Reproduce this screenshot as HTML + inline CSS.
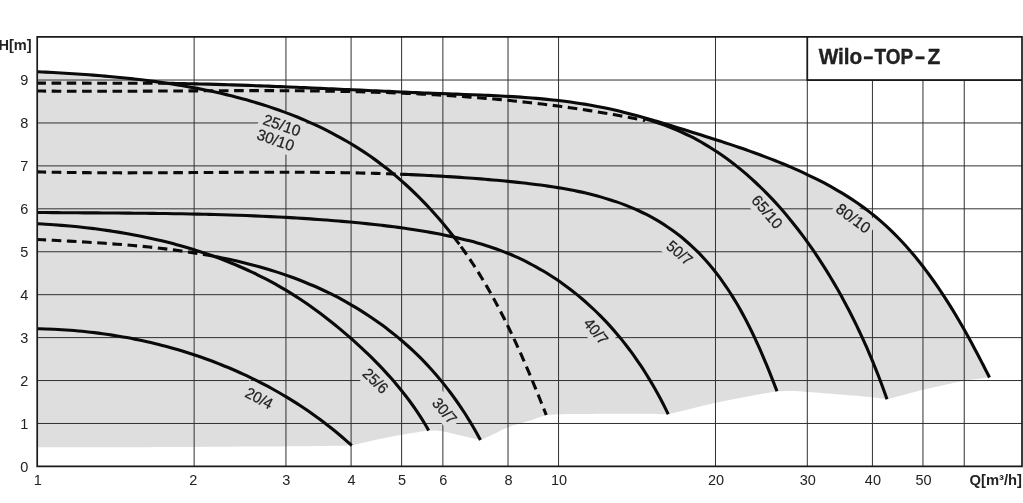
<!DOCTYPE html>
<html><head><meta charset="utf-8"><title>Wilo-TOP-Z</title>
<style>html,body{margin:0;padding:0;background:#fff}svg{display:block}text{font-family:"Liberation Sans",sans-serif;fill:#222}</style></head><body>
<svg width="1023" height="503" viewBox="0 0 1023 503">
<rect width="1023" height="503" fill="#fff"/>
<defs><clipPath id="gc"><path d="M37.52,71.76 C38.82,71.83 42.75,72.02 45.37,72.15 C47.99,72.28 50.62,72.42 53.26,72.56 C55.89,72.70 58.53,72.85 61.17,73.00 C63.81,73.15 66.46,73.31 69.11,73.47 C71.76,73.64 74.42,73.81 77.07,73.99 C79.73,74.16 82.39,74.35 85.05,74.54 C87.72,74.73 90.38,74.93 93.05,75.13 C95.72,75.34 98.39,75.55 101.06,75.77 C103.74,76.00 106.41,76.23 109.09,76.47 C111.76,76.71 114.44,76.95 117.12,77.21 C119.79,77.47 122.47,77.74 125.15,78.01 C127.83,78.29 130.51,78.58 133.19,78.88 C135.87,79.18 138.55,79.49 141.22,79.81 C143.90,80.13 146.58,80.46 149.26,80.80 C151.93,81.15 154.61,81.50 157.28,81.87 C159.96,82.24 163.51,82.77 165.30,83.01 C167.08,83.25 167.55,83.25 168.00,83.30 C169.34,83.34 173.35,83.40 176.03,83.45 C178.71,83.49 181.38,83.54 184.06,83.60 C186.73,83.65 189.41,83.70 192.08,83.76 C194.76,83.82 197.43,83.89 200.11,83.95 C202.78,84.02 205.45,84.09 208.13,84.16 C210.80,84.23 213.47,84.30 216.14,84.38 C218.82,84.46 221.49,84.54 224.16,84.62 C226.83,84.70 229.51,84.79 232.18,84.87 C234.85,84.96 237.52,85.05 240.19,85.14 C242.86,85.23 245.53,85.32 248.20,85.42 C250.87,85.51 253.55,85.61 256.22,85.71 C258.89,85.81 261.56,85.91 264.23,86.01 C266.90,86.12 269.57,86.22 272.24,86.33 C274.91,86.43 277.57,86.54 280.24,86.65 C282.91,86.76 285.58,86.87 288.25,86.98 C290.92,87.09 293.59,87.20 296.26,87.32 C298.93,87.43 301.60,87.55 304.27,87.66 C306.94,87.78 309.61,87.89 312.28,88.01 C314.94,88.13 317.61,88.25 320.28,88.36 C322.95,88.48 325.62,88.60 328.29,88.72 C330.96,88.84 333.63,88.96 336.30,89.08 C338.97,89.20 341.64,89.32 344.31,89.44 C346.98,89.56 349.65,89.68 352.32,89.80 C354.99,89.92 357.66,90.04 360.33,90.17 C363.00,90.29 365.67,90.41 368.34,90.53 C371.01,90.65 373.68,90.76 376.35,90.88 C379.02,91.00 381.70,91.12 384.37,91.24 C387.04,91.36 389.71,91.47 392.38,91.59 C395.05,91.71 397.73,91.82 400.40,91.94 C403.07,92.05 405.75,92.16 408.42,92.27 C411.09,92.39 413.77,92.50 416.44,92.61 C419.11,92.72 421.79,92.83 424.46,92.93 C427.14,93.04 429.81,93.14 432.49,93.25 C435.16,93.35 437.84,93.45 440.52,93.55 C443.19,93.66 445.87,93.75 448.55,93.85 C451.23,93.95 453.90,94.04 456.58,94.14 C459.26,94.24 461.94,94.34 464.61,94.43 C467.29,94.53 469.97,94.63 472.65,94.74 C475.32,94.84 478.00,94.95 480.68,95.06 C483.35,95.17 486.03,95.28 488.70,95.40 C491.38,95.52 494.05,95.64 496.73,95.78 C499.40,95.91 502.07,96.04 504.74,96.19 C507.42,96.34 510.09,96.49 512.76,96.65 C515.42,96.81 518.09,96.98 520.76,97.17 C523.42,97.35 526.09,97.54 528.75,97.74 C531.41,97.95 534.08,98.16 536.73,98.39 C539.39,98.62 542.05,98.86 544.71,99.11 C547.36,99.37 550.01,99.63 552.67,99.92 C555.32,100.20 557.96,100.50 560.61,100.81 C563.26,101.13 565.90,101.46 568.54,101.81 C571.18,102.16 573.82,102.53 576.45,102.91 C579.09,103.30 581.72,103.70 584.35,104.13 C586.98,104.55 589.60,105.00 592.22,105.47 C594.85,105.93 597.46,106.42 600.08,106.93 C602.70,107.44 605.31,107.97 607.91,108.53 C610.52,109.09 613.13,109.67 615.73,110.27 C618.33,110.88 620.92,111.51 623.52,112.15 C626.11,112.80 628.70,113.46 631.29,114.14 C633.87,114.82 636.46,115.53 639.04,116.24 C641.62,116.95 644.20,117.68 646.77,118.42 C649.35,119.16 651.92,119.91 654.49,120.67 C657.06,121.43 659.63,122.20 662.19,122.98 C664.75,123.75 667.32,124.54 669.88,125.32 C672.44,126.11 675.00,126.90 677.55,127.69 C680.11,128.49 682.66,129.28 685.22,130.07 C687.77,130.87 690.32,131.66 692.87,132.45 C695.42,133.25 697.97,134.04 700.51,134.84 C703.06,135.64 705.60,136.44 708.14,137.25 C710.68,138.05 713.22,138.86 715.76,139.68 C718.29,140.49 720.83,141.31 723.36,142.14 C725.89,142.97 728.42,143.80 730.95,144.65 C733.47,145.49 736.00,146.34 738.52,147.20 C741.04,148.06 743.56,148.93 746.07,149.82 C748.59,150.70 751.10,151.59 753.61,152.50 C756.11,153.40 758.62,154.32 761.12,155.25 C763.63,156.18 766.13,157.13 768.62,158.09 C771.12,159.05 773.61,160.03 776.10,161.02 C778.59,162.01 781.07,163.02 783.55,164.05 C786.03,165.08 788.51,166.12 790.98,167.19 C793.45,168.25 795.91,169.33 798.37,170.44 C800.82,171.54 803.27,172.66 805.71,173.81 C808.15,174.95 810.57,176.12 812.99,177.31 C815.40,178.49 817.81,179.70 820.20,180.94 C822.59,182.17 824.97,183.43 827.33,184.71 C829.69,185.99 832.04,187.29 834.36,188.62 C836.69,189.95 839.00,191.31 841.30,192.69 C843.59,194.07 845.86,195.48 848.12,196.92 C850.37,198.35 852.60,199.82 854.81,201.31 C857.02,202.80 859.21,204.32 861.37,205.88 C863.53,207.43 865.67,209.01 867.79,210.62 C869.90,212.23 871.98,213.87 874.04,215.55 C876.10,217.22 878.13,218.93 880.14,220.66 C882.14,222.40 884.12,224.16 886.07,225.95 C888.03,227.75 889.95,229.57 891.86,231.42 C893.76,233.26 895.64,235.14 897.49,237.04 C899.34,238.94 901.17,240.87 902.98,242.82 C904.79,244.77 906.57,246.75 908.33,248.74 C910.09,250.74 911.83,252.76 913.54,254.80 C915.26,256.84 916.95,258.91 918.62,260.99 C920.30,263.07 921.95,265.17 923.58,267.29 C925.21,269.42 926.82,271.56 928.42,273.71 C930.01,275.87 931.58,278.04 933.13,280.23 C934.69,282.42 936.22,284.63 937.74,286.84 C939.26,289.06 940.76,291.30 942.24,293.54 C943.72,295.79 945.18,298.05 946.63,300.32 C948.08,302.59 949.51,304.87 950.93,307.16 C952.35,309.45 953.75,311.76 955.13,314.07 C956.52,316.38 957.89,318.69 959.25,321.02 C960.60,323.35 961.95,325.68 963.28,328.02 C964.60,330.36 965.92,332.70 967.22,335.05 C968.53,337.40 969.82,339.75 971.10,342.11 C972.38,344.46 973.64,346.82 974.90,349.18 C976.16,351.54 977.40,353.91 978.64,356.27 C979.87,358.63 981.10,360.99 982.31,363.35 C983.53,365.71 984.74,368.08 985.93,370.43 C987.13,372.79 988.91,376.32 989.50,377.49 L964.6,380.4 L922.9,389.8 L887,399.25 C884.17,398.88 877.83,397.79 870.00,397.00 C862.17,396.21 850.42,395.33 840.00,394.50 C829.58,393.67 815.83,392.58 807.50,392.00 C799.17,391.42 795.08,391.12 790.00,391.00 C784.92,390.88 779.17,391.21 777.00,391.25 C771.67,392.21 755.33,395.04 745.00,397.00 C734.67,398.96 724.17,401.00 715.00,403.00 C705.83,405.00 697.79,407.12 690.00,409.00 C682.21,410.88 671.88,413.38 668.25,414.25 C660.21,414.17 634.71,413.79 620.00,413.75 C605.29,413.71 590.21,413.92 580.00,414.00 C569.79,414.08 564.38,414.08 558.75,414.25 C553.12,414.42 548.33,414.88 546.25,415.00 C543.54,415.92 536.46,418.42 530.00,420.50 C523.54,422.58 513.50,425.25 507.50,427.50 C501.50,429.75 498.50,431.92 494.00,434.00 C489.50,436.08 482.75,439.00 480.50,440.00 C477.92,439.42 470.08,437.67 465.00,436.50 C459.92,435.33 454.17,433.92 450.00,433.00 C445.83,432.08 443.54,431.42 440.00,431.00 C436.46,430.58 430.62,430.58 428.75,430.50 C423.96,431.25 408.96,433.42 400.00,435.00 C391.04,436.58 383.04,438.25 375.00,440.00 C366.96,441.75 355.62,444.58 351.75,445.50 C343.12,445.63 326.46,446.07 300.00,446.30 C273.54,446.53 236.80,446.73 193.00,446.90 C149.20,447.07 63.17,447.23 37.20,447.30 Z"/></clipPath></defs>
<path d="M37.52,71.76 C38.82,71.83 42.75,72.02 45.37,72.15 C47.99,72.28 50.62,72.42 53.26,72.56 C55.89,72.70 58.53,72.85 61.17,73.00 C63.81,73.15 66.46,73.31 69.11,73.47 C71.76,73.64 74.42,73.81 77.07,73.99 C79.73,74.16 82.39,74.35 85.05,74.54 C87.72,74.73 90.38,74.93 93.05,75.13 C95.72,75.34 98.39,75.55 101.06,75.77 C103.74,76.00 106.41,76.23 109.09,76.47 C111.76,76.71 114.44,76.95 117.12,77.21 C119.79,77.47 122.47,77.74 125.15,78.01 C127.83,78.29 130.51,78.58 133.19,78.88 C135.87,79.18 138.55,79.49 141.22,79.81 C143.90,80.13 146.58,80.46 149.26,80.80 C151.93,81.15 154.61,81.50 157.28,81.87 C159.96,82.24 163.51,82.77 165.30,83.01 C167.08,83.25 167.55,83.25 168.00,83.30 C169.34,83.34 173.35,83.40 176.03,83.45 C178.71,83.49 181.38,83.54 184.06,83.60 C186.73,83.65 189.41,83.70 192.08,83.76 C194.76,83.82 197.43,83.89 200.11,83.95 C202.78,84.02 205.45,84.09 208.13,84.16 C210.80,84.23 213.47,84.30 216.14,84.38 C218.82,84.46 221.49,84.54 224.16,84.62 C226.83,84.70 229.51,84.79 232.18,84.87 C234.85,84.96 237.52,85.05 240.19,85.14 C242.86,85.23 245.53,85.32 248.20,85.42 C250.87,85.51 253.55,85.61 256.22,85.71 C258.89,85.81 261.56,85.91 264.23,86.01 C266.90,86.12 269.57,86.22 272.24,86.33 C274.91,86.43 277.57,86.54 280.24,86.65 C282.91,86.76 285.58,86.87 288.25,86.98 C290.92,87.09 293.59,87.20 296.26,87.32 C298.93,87.43 301.60,87.55 304.27,87.66 C306.94,87.78 309.61,87.89 312.28,88.01 C314.94,88.13 317.61,88.25 320.28,88.36 C322.95,88.48 325.62,88.60 328.29,88.72 C330.96,88.84 333.63,88.96 336.30,89.08 C338.97,89.20 341.64,89.32 344.31,89.44 C346.98,89.56 349.65,89.68 352.32,89.80 C354.99,89.92 357.66,90.04 360.33,90.17 C363.00,90.29 365.67,90.41 368.34,90.53 C371.01,90.65 373.68,90.76 376.35,90.88 C379.02,91.00 381.70,91.12 384.37,91.24 C387.04,91.36 389.71,91.47 392.38,91.59 C395.05,91.71 397.73,91.82 400.40,91.94 C403.07,92.05 405.75,92.16 408.42,92.27 C411.09,92.39 413.77,92.50 416.44,92.61 C419.11,92.72 421.79,92.83 424.46,92.93 C427.14,93.04 429.81,93.14 432.49,93.25 C435.16,93.35 437.84,93.45 440.52,93.55 C443.19,93.66 445.87,93.75 448.55,93.85 C451.23,93.95 453.90,94.04 456.58,94.14 C459.26,94.24 461.94,94.34 464.61,94.43 C467.29,94.53 469.97,94.63 472.65,94.74 C475.32,94.84 478.00,94.95 480.68,95.06 C483.35,95.17 486.03,95.28 488.70,95.40 C491.38,95.52 494.05,95.64 496.73,95.78 C499.40,95.91 502.07,96.04 504.74,96.19 C507.42,96.34 510.09,96.49 512.76,96.65 C515.42,96.81 518.09,96.98 520.76,97.17 C523.42,97.35 526.09,97.54 528.75,97.74 C531.41,97.95 534.08,98.16 536.73,98.39 C539.39,98.62 542.05,98.86 544.71,99.11 C547.36,99.37 550.01,99.63 552.67,99.92 C555.32,100.20 557.96,100.50 560.61,100.81 C563.26,101.13 565.90,101.46 568.54,101.81 C571.18,102.16 573.82,102.53 576.45,102.91 C579.09,103.30 581.72,103.70 584.35,104.13 C586.98,104.55 589.60,105.00 592.22,105.47 C594.85,105.93 597.46,106.42 600.08,106.93 C602.70,107.44 605.31,107.97 607.91,108.53 C610.52,109.09 613.13,109.67 615.73,110.27 C618.33,110.88 620.92,111.51 623.52,112.15 C626.11,112.80 628.70,113.46 631.29,114.14 C633.87,114.82 636.46,115.53 639.04,116.24 C641.62,116.95 644.20,117.68 646.77,118.42 C649.35,119.16 651.92,119.91 654.49,120.67 C657.06,121.43 659.63,122.20 662.19,122.98 C664.75,123.75 667.32,124.54 669.88,125.32 C672.44,126.11 675.00,126.90 677.55,127.69 C680.11,128.49 682.66,129.28 685.22,130.07 C687.77,130.87 690.32,131.66 692.87,132.45 C695.42,133.25 697.97,134.04 700.51,134.84 C703.06,135.64 705.60,136.44 708.14,137.25 C710.68,138.05 713.22,138.86 715.76,139.68 C718.29,140.49 720.83,141.31 723.36,142.14 C725.89,142.97 728.42,143.80 730.95,144.65 C733.47,145.49 736.00,146.34 738.52,147.20 C741.04,148.06 743.56,148.93 746.07,149.82 C748.59,150.70 751.10,151.59 753.61,152.50 C756.11,153.40 758.62,154.32 761.12,155.25 C763.63,156.18 766.13,157.13 768.62,158.09 C771.12,159.05 773.61,160.03 776.10,161.02 C778.59,162.01 781.07,163.02 783.55,164.05 C786.03,165.08 788.51,166.12 790.98,167.19 C793.45,168.25 795.91,169.33 798.37,170.44 C800.82,171.54 803.27,172.66 805.71,173.81 C808.15,174.95 810.57,176.12 812.99,177.31 C815.40,178.49 817.81,179.70 820.20,180.94 C822.59,182.17 824.97,183.43 827.33,184.71 C829.69,185.99 832.04,187.29 834.36,188.62 C836.69,189.95 839.00,191.31 841.30,192.69 C843.59,194.07 845.86,195.48 848.12,196.92 C850.37,198.35 852.60,199.82 854.81,201.31 C857.02,202.80 859.21,204.32 861.37,205.88 C863.53,207.43 865.67,209.01 867.79,210.62 C869.90,212.23 871.98,213.87 874.04,215.55 C876.10,217.22 878.13,218.93 880.14,220.66 C882.14,222.40 884.12,224.16 886.07,225.95 C888.03,227.75 889.95,229.57 891.86,231.42 C893.76,233.26 895.64,235.14 897.49,237.04 C899.34,238.94 901.17,240.87 902.98,242.82 C904.79,244.77 906.57,246.75 908.33,248.74 C910.09,250.74 911.83,252.76 913.54,254.80 C915.26,256.84 916.95,258.91 918.62,260.99 C920.30,263.07 921.95,265.17 923.58,267.29 C925.21,269.42 926.82,271.56 928.42,273.71 C930.01,275.87 931.58,278.04 933.13,280.23 C934.69,282.42 936.22,284.63 937.74,286.84 C939.26,289.06 940.76,291.30 942.24,293.54 C943.72,295.79 945.18,298.05 946.63,300.32 C948.08,302.59 949.51,304.87 950.93,307.16 C952.35,309.45 953.75,311.76 955.13,314.07 C956.52,316.38 957.89,318.69 959.25,321.02 C960.60,323.35 961.95,325.68 963.28,328.02 C964.60,330.36 965.92,332.70 967.22,335.05 C968.53,337.40 969.82,339.75 971.10,342.11 C972.38,344.46 973.64,346.82 974.90,349.18 C976.16,351.54 977.40,353.91 978.64,356.27 C979.87,358.63 981.10,360.99 982.31,363.35 C983.53,365.71 984.74,368.08 985.93,370.43 C987.13,372.79 988.91,376.32 989.50,377.49 L964.6,380.4 L922.9,389.8 L887,399.25 C884.17,398.88 877.83,397.79 870.00,397.00 C862.17,396.21 850.42,395.33 840.00,394.50 C829.58,393.67 815.83,392.58 807.50,392.00 C799.17,391.42 795.08,391.12 790.00,391.00 C784.92,390.88 779.17,391.21 777.00,391.25 C771.67,392.21 755.33,395.04 745.00,397.00 C734.67,398.96 724.17,401.00 715.00,403.00 C705.83,405.00 697.79,407.12 690.00,409.00 C682.21,410.88 671.88,413.38 668.25,414.25 C660.21,414.17 634.71,413.79 620.00,413.75 C605.29,413.71 590.21,413.92 580.00,414.00 C569.79,414.08 564.38,414.08 558.75,414.25 C553.12,414.42 548.33,414.88 546.25,415.00 C543.54,415.92 536.46,418.42 530.00,420.50 C523.54,422.58 513.50,425.25 507.50,427.50 C501.50,429.75 498.50,431.92 494.00,434.00 C489.50,436.08 482.75,439.00 480.50,440.00 C477.92,439.42 470.08,437.67 465.00,436.50 C459.92,435.33 454.17,433.92 450.00,433.00 C445.83,432.08 443.54,431.42 440.00,431.00 C436.46,430.58 430.62,430.58 428.75,430.50 C423.96,431.25 408.96,433.42 400.00,435.00 C391.04,436.58 383.04,438.25 375.00,440.00 C366.96,441.75 355.62,444.58 351.75,445.50 C343.12,445.63 326.46,446.07 300.00,446.30 C273.54,446.53 236.80,446.73 193.00,446.90 C149.20,447.07 63.17,447.23 37.20,447.30 Z" fill="#dedede"/>
<path d="M194.14,36.90 V466.40 M285.95,36.90 V466.40 M351.08,36.90 V466.40 M401.61,36.90 V466.40 M442.89,36.90 V466.40 M508.03,36.90 V466.40 M558.55,36.90 V466.40 M715.49,36.90 V466.40 M807.30,36.90 V466.40 M872.43,80.03 V466.40 M922.96,80.03 V466.40 M964.24,80.03 V466.40 M37.20,423.47 H1022.00 M37.20,380.54 H1022.00 M37.20,337.61 H1022.00 M37.20,294.68 H1022.00 M37.20,251.75 H1022.00 M37.20,208.82 H1022.00 M37.20,165.89 H1022.00 M37.20,122.96 H1022.00 M37.20,80.03 H1022.00" stroke="#303030" stroke-width="1.0" fill="none"/>
<g fill="#dedede" clip-path="url(#gc)"><rect x="-22.2" y="-11.5" width="44.5" height="22" transform="translate(282.0,125.2) rotate(19.4)"/><rect x="-22.2" y="-11.5" width="44.5" height="22" transform="translate(275.6,140.0) rotate(19.2)"/><rect x="-17.3" y="-11.5" width="34.6" height="22" transform="translate(259.2,398.2) rotate(28.0)"/><rect x="-17.3" y="-11.5" width="34.6" height="22" transform="translate(375.6,380.8) rotate(44.0)"/><rect x="-17.3" y="-11.5" width="34.6" height="22" transform="translate(444.6,410.8) rotate(49.0)"/><rect x="-17.3" y="-11.5" width="34.6" height="22" transform="translate(596.0,331.3) rotate(50.0)"/><rect x="-17.3" y="-11.5" width="34.6" height="22" transform="translate(679.6,252.8) rotate(40.0)"/><rect x="-22.2" y="-11.5" width="44.5" height="22" transform="translate(767.2,211.8) rotate(49.3)"/><rect x="-22.2" y="-11.5" width="44.5" height="22" transform="translate(853.4,218.2) rotate(36.5)"/></g>
<path d="M37.50,328.77 C38.86,328.80 42.93,328.87 45.65,328.96 C48.37,329.04 51.09,329.15 53.81,329.27 C56.52,329.39 59.24,329.54 61.96,329.70 C64.67,329.87 67.39,330.05 70.11,330.26 C72.82,330.46 75.53,330.69 78.25,330.94 C80.96,331.18 83.67,331.45 86.38,331.74 C89.08,332.02 91.79,332.33 94.49,332.66 C97.20,332.99 99.90,333.33 102.60,333.70 C105.30,334.07 107.99,334.46 110.68,334.87 C113.38,335.28 116.07,335.72 118.75,336.17 C121.44,336.62 124.12,337.09 126.80,337.59 C129.47,338.08 132.15,338.59 134.82,339.13 C137.49,339.67 140.15,340.22 142.81,340.80 C145.47,341.38 148.12,341.97 150.77,342.59 C153.42,343.21 156.07,343.85 158.71,344.51 C161.34,345.18 163.98,345.86 166.60,346.56 C169.23,347.27 171.85,347.99 174.46,348.74 C177.08,349.48 179.68,350.25 182.28,351.04 C184.88,351.83 187.48,352.64 190.06,353.47 C192.65,354.30 195.23,355.15 197.80,356.02 C200.37,356.90 202.93,357.79 205.49,358.71 C208.04,359.63 210.59,360.57 213.13,361.53 C215.66,362.49 218.19,363.47 220.71,364.47 C223.23,365.47 225.74,366.50 228.25,367.54 C230.75,368.59 233.24,369.66 235.72,370.75 C238.20,371.84 240.68,372.95 243.14,374.08 C245.60,375.22 248.05,376.37 250.49,377.55 C252.93,378.73 255.37,379.93 257.78,381.15 C260.20,382.37 262.61,383.61 265.01,384.88 C267.41,386.14 269.79,387.43 272.16,388.74 C274.54,390.05 276.90,391.38 279.25,392.73 C281.60,394.08 283.93,395.46 286.26,396.86 C288.58,398.26 290.89,399.68 293.19,401.12 C295.49,402.56 297.77,404.02 300.05,405.51 C302.32,407.00 304.58,408.51 306.82,410.04 C309.06,411.57 311.29,413.13 313.51,414.70 C315.72,416.28 317.92,417.88 320.11,419.50 C322.30,421.12 324.47,422.77 326.62,424.43 C328.78,426.10 330.92,427.79 333.05,429.50 C335.17,431.21 337.28,432.95 339.38,434.71 C341.47,436.46 343.55,438.24 345.61,440.05 C347.67,441.85 350.72,444.61 351.74,445.52" fill="none" stroke="#0a0a0a" stroke-width="3.1"/>
<path d="M37.50,223.77 C38.84,223.84 42.87,224.05 45.56,224.21 C48.25,224.37 50.95,224.55 53.64,224.74 C56.33,224.92 59.02,225.13 61.72,225.34 C64.41,225.56 67.10,225.79 69.80,226.03 C72.49,226.28 75.18,226.54 77.88,226.81 C80.57,227.09 83.26,227.38 85.95,227.68 C88.64,227.99 91.33,228.31 94.02,228.64 C96.71,228.98 99.40,229.33 102.08,229.70 C104.77,230.06 107.45,230.45 110.13,230.85 C112.81,231.25 115.49,231.67 118.16,232.10 C120.84,232.53 123.51,232.99 126.18,233.45 C128.85,233.92 131.51,234.41 134.18,234.91 C136.84,235.42 139.49,235.94 142.15,236.48 C144.80,237.02 147.45,237.58 150.09,238.16 C152.74,238.73 155.38,239.33 158.01,239.94 C160.64,240.56 163.27,241.19 165.89,241.85 C168.52,242.50 171.13,243.17 173.74,243.87 C176.35,244.56 178.96,245.27 181.55,246.00 C184.15,246.74 186.74,247.49 189.33,248.27 C191.91,249.04 194.49,249.83 197.05,250.65 C199.62,251.47 202.18,252.31 204.74,253.16 C207.29,254.02 209.83,254.90 212.37,255.81 C214.91,256.71 217.43,257.63 219.95,258.58 C222.47,259.53 224.98,260.50 227.48,261.49 C229.98,262.48 232.47,263.50 234.95,264.54 C237.43,265.57 239.90,266.64 242.36,267.72 C244.81,268.81 247.26,269.92 249.70,271.05 C252.14,272.18 254.57,273.34 256.98,274.52 C259.40,275.70 261.80,276.91 264.19,278.14 C266.58,279.37 268.96,280.63 271.33,281.91 C273.70,283.19 276.05,284.50 278.40,285.83 C280.74,287.16 283.07,288.52 285.38,289.90 C287.70,291.29 290.00,292.70 292.29,294.13 C294.58,295.57 296.85,297.03 299.12,298.51 C301.38,300.00 303.63,301.51 305.86,303.04 C308.10,304.57 310.32,306.12 312.52,307.70 C314.73,309.27 316.92,310.87 319.10,312.49 C321.28,314.10 323.45,315.74 325.60,317.40 C327.75,319.06 329.89,320.74 332.01,322.43 C334.13,324.12 336.24,325.84 338.33,327.57 C340.43,329.30 342.51,331.05 344.57,332.81 C346.64,334.57 348.69,336.35 350.72,338.15 C352.76,339.94 354.78,341.75 356.79,343.57 C358.79,345.40 360.78,347.24 362.76,349.09 C364.73,350.94 366.69,352.81 368.63,354.70 C370.57,356.58 372.49,358.48 374.40,360.40 C376.30,362.31 378.19,364.24 380.05,366.19 C381.92,368.14 383.76,370.10 385.59,372.08 C387.41,374.07 389.22,376.07 391.00,378.08 C392.78,380.10 394.54,382.14 396.27,384.19 C398.01,386.25 399.72,388.32 401.41,390.42 C403.09,392.51 404.75,394.63 406.39,396.76 C408.02,398.90 409.63,401.06 411.21,403.23 C412.79,405.41 414.34,407.61 415.87,409.84 C417.39,412.06 418.88,414.31 420.35,416.58 C421.81,418.85 423.24,421.15 424.64,423.47 C426.05,425.78 428.07,429.33 428.75,430.50" fill="none" stroke="#0a0a0a" stroke-width="3.1"/>
<path d="M213.22,256.17 C214.54,256.43 218.50,257.18 221.13,257.71 C223.76,258.23 226.39,258.78 229.01,259.35 C231.63,259.91 234.24,260.49 236.85,261.09 C239.46,261.70 242.07,262.32 244.66,262.96 C247.26,263.60 249.85,264.26 252.44,264.94 C255.02,265.62 257.60,266.31 260.17,267.04 C262.74,267.76 265.30,268.50 267.85,269.26 C270.41,270.03 272.95,270.81 275.49,271.62 C278.03,272.43 280.56,273.26 283.08,274.12 C285.60,274.97 288.11,275.85 290.61,276.75 C293.12,277.65 295.61,278.58 298.09,279.53 C300.58,280.48 303.05,281.45 305.51,282.45 C307.98,283.46 310.43,284.48 312.87,285.54 C315.31,286.59 317.74,287.67 320.16,288.77 C322.58,289.88 324.99,291.01 327.39,292.17 C329.78,293.33 332.17,294.52 334.54,295.74 C336.91,296.95 339.27,298.19 341.61,299.46 C343.96,300.73 346.29,302.02 348.61,303.34 C350.92,304.66 353.22,306.01 355.51,307.38 C357.80,308.75 360.07,310.15 362.32,311.57 C364.58,313.00 366.82,314.45 369.04,315.93 C371.26,317.40 373.47,318.90 375.66,320.43 C377.84,321.96 380.01,323.51 382.17,325.09 C384.32,326.67 386.45,328.28 388.56,329.90 C390.68,331.53 392.77,333.19 394.85,334.87 C396.92,336.55 398.97,338.25 401.01,339.98 C403.04,341.71 405.05,343.47 407.04,345.25 C409.03,347.02 411.00,348.83 412.95,350.66 C414.90,352.49 416.82,354.34 418.72,356.22 C420.62,358.09 422.50,359.99 424.35,361.92 C426.20,363.84 428.03,365.79 429.84,367.77 C431.64,369.74 433.42,371.74 435.18,373.75 C436.93,375.77 438.67,377.81 440.37,379.88 C442.08,381.94 443.76,384.02 445.42,386.12 C447.08,388.23 448.71,390.35 450.32,392.49 C451.93,394.64 453.52,396.80 455.08,398.98 C456.64,401.16 458.17,403.36 459.68,405.58 C461.19,407.80 462.68,410.03 464.14,412.28 C465.60,414.54 467.03,416.80 468.44,419.09 C469.85,421.37 471.24,423.67 472.60,425.98 C473.96,428.30 475.30,430.63 476.61,432.97 C477.92,435.31 479.82,438.86 480.46,440.03" fill="none" stroke="#0a0a0a" stroke-width="3.1"/>
<path d="M37.50,212.50 C38.84,212.51 42.87,212.55 45.56,212.57 C48.24,212.59 50.92,212.61 53.61,212.63 C56.29,212.65 58.98,212.67 61.66,212.68 C64.34,212.70 67.02,212.72 69.70,212.74 C72.39,212.75 75.07,212.77 77.75,212.79 C80.43,212.80 83.11,212.82 85.79,212.84 C88.47,212.85 91.15,212.87 93.83,212.89 C96.51,212.90 99.18,212.92 101.86,212.94 C104.54,212.96 107.22,212.97 109.89,212.99 C112.57,213.01 115.25,213.03 117.92,213.05 C120.60,213.07 123.28,213.09 125.95,213.12 C128.63,213.14 131.30,213.16 133.98,213.19 C136.65,213.21 139.33,213.24 142.00,213.26 C144.67,213.29 147.35,213.32 150.02,213.35 C152.69,213.38 155.37,213.42 158.04,213.45 C160.71,213.48 163.39,213.52 166.06,213.56 C168.73,213.60 171.40,213.64 174.07,213.68 C176.75,213.72 179.42,213.77 182.09,213.82 C184.76,213.87 187.43,213.92 190.10,213.97 C192.77,214.02 195.44,214.08 198.12,214.14 C200.79,214.19 203.46,214.26 206.13,214.32 C208.80,214.39 211.47,214.45 214.14,214.53 C216.81,214.60 219.48,214.67 222.15,214.75 C224.82,214.83 227.49,214.91 230.16,215.00 C232.83,215.08 235.50,215.17 238.17,215.26 C240.83,215.36 243.50,215.45 246.17,215.56 C248.84,215.66 251.51,215.76 254.18,215.87 C256.85,215.98 259.52,216.10 262.19,216.22 C264.86,216.33 267.53,216.46 270.20,216.59 C272.87,216.71 275.54,216.85 278.21,216.99 C280.88,217.12 283.55,217.27 286.22,217.41 C288.89,217.56 291.56,217.72 294.23,217.88 C296.90,218.03 299.56,218.20 302.24,218.37 C304.91,218.54 307.58,218.71 310.25,218.89 C312.92,219.08 315.59,219.26 318.26,219.46 C320.93,219.65 323.60,219.85 326.27,220.05 C328.94,220.26 331.61,220.47 334.28,220.69 C336.95,220.91 339.63,221.13 342.30,221.36 C344.97,221.59 347.64,221.83 350.31,222.07 C352.99,222.32 355.66,222.57 358.33,222.83 C361.00,223.09 363.68,223.35 366.35,223.63 C369.02,223.90 371.69,224.19 374.36,224.48 C377.04,224.78 379.71,225.08 382.38,225.39 C385.05,225.71 387.71,226.03 390.38,226.36 C393.05,226.70 395.71,227.05 398.38,227.41 C401.04,227.77 403.71,228.14 406.37,228.52 C409.03,228.91 411.69,229.31 414.34,229.72 C417.00,230.13 419.65,230.56 422.30,231.00 C424.96,231.44 427.60,231.90 430.25,232.37 C432.90,232.85 435.54,233.34 438.18,233.84 C440.82,234.35 443.46,234.87 446.09,235.42 C448.72,235.96 451.35,236.52 453.97,237.10 C456.59,237.69 459.21,238.29 461.82,238.92 C464.43,239.54 467.04,240.19 469.63,240.87 C472.22,241.55 474.81,242.25 477.38,242.98 C479.96,243.71 482.52,244.47 485.07,245.26 C487.62,246.05 490.16,246.87 492.69,247.73 C495.22,248.58 497.73,249.47 500.23,250.40 C502.72,251.32 505.21,252.28 507.67,253.28 C510.13,254.28 512.58,255.31 515.01,256.39 C517.44,257.46 519.86,258.58 522.25,259.72 C524.65,260.87 527.03,262.06 529.39,263.28 C531.74,264.50 534.09,265.76 536.41,267.05 C538.73,268.34 541.03,269.67 543.32,271.03 C545.60,272.39 547.87,273.78 550.11,275.21 C552.35,276.64 554.58,278.10 556.78,279.59 C558.99,281.08 561.17,282.61 563.33,284.16 C565.50,285.72 567.64,287.31 569.76,288.93 C571.88,290.54 573.98,292.19 576.06,293.87 C578.14,295.55 580.19,297.26 582.23,298.99 C584.26,300.73 586.27,302.50 588.26,304.29 C590.25,306.08 592.21,307.90 594.15,309.75 C596.10,311.60 598.02,313.48 599.91,315.38 C601.80,317.28 603.68,319.21 605.52,321.16 C607.37,323.11 609.19,325.09 610.99,327.09 C612.79,329.09 614.56,331.12 616.31,333.17 C618.05,335.22 619.78,337.29 621.47,339.38 C623.17,341.48 624.84,343.60 626.49,345.73 C628.13,347.87 629.76,350.03 631.35,352.20 C632.95,354.37 634.52,356.57 636.06,358.78 C637.61,360.99 639.13,363.22 640.62,365.46 C642.11,367.70 643.58,369.96 645.03,372.23 C646.47,374.50 647.89,376.79 649.28,379.09 C650.67,381.38 652.04,383.69 653.38,386.01 C654.72,388.33 656.04,390.66 657.33,393.00 C658.62,395.34 659.88,397.69 661.12,400.04 C662.36,402.40 663.58,404.76 664.76,407.13 C665.95,409.50 667.67,413.06 668.25,414.25" fill="none" stroke="#0a0a0a" stroke-width="3.1"/>
<path d="M400.12,174.19 C401.46,174.24 405.48,174.40 408.16,174.51 C410.84,174.63 413.52,174.74 416.20,174.87 C418.89,174.99 421.57,175.12 424.25,175.25 C426.94,175.38 429.62,175.52 432.31,175.67 C435.00,175.81 437.69,175.96 440.37,176.12 C443.06,176.27 445.75,176.44 448.44,176.60 C451.14,176.77 453.83,176.95 456.52,177.13 C459.22,177.31 461.91,177.49 464.61,177.69 C467.30,177.88 470.00,178.08 472.70,178.28 C475.40,178.49 478.10,178.70 480.80,178.92 C483.50,179.14 486.21,179.37 488.91,179.60 C491.62,179.83 494.32,180.07 497.03,180.32 C499.74,180.57 502.45,180.82 505.16,181.08 C507.87,181.35 510.58,181.61 513.30,181.89 C516.01,182.17 518.73,182.46 521.44,182.76 C524.15,183.05 526.87,183.36 529.58,183.69 C532.29,184.01 535.00,184.34 537.71,184.69 C540.41,185.05 543.12,185.41 545.81,185.79 C548.51,186.18 551.21,186.58 553.89,187.00 C556.58,187.42 559.26,187.86 561.94,188.32 C564.61,188.78 567.28,189.26 569.94,189.77 C572.60,190.28 575.25,190.81 577.89,191.37 C580.53,191.92 583.17,192.50 585.79,193.11 C588.41,193.72 591.02,194.36 593.61,195.03 C596.21,195.70 598.79,196.40 601.36,197.13 C603.93,197.86 606.49,198.62 609.03,199.42 C611.58,200.21 614.10,201.04 616.61,201.91 C619.12,202.78 621.62,203.68 624.09,204.62 C626.57,205.57 629.03,206.55 631.47,207.57 C633.91,208.59 636.33,209.65 638.73,210.76 C641.13,211.86 643.51,213.01 645.87,214.20 C648.23,215.39 650.56,216.63 652.88,217.91 C655.19,219.20 657.48,220.53 659.75,221.91 C662.02,223.29 664.26,224.71 666.48,226.19 C668.69,227.66 670.88,229.19 673.04,230.76 C675.21,232.32 677.34,233.94 679.44,235.59 C681.55,237.25 683.62,238.95 685.66,240.70 C687.70,242.44 689.71,244.22 691.69,246.05 C693.66,247.87 695.60,249.74 697.51,251.65 C699.41,253.55 701.28,255.50 703.11,257.47 C704.94,259.45 706.74,261.47 708.50,263.52 C710.26,265.57 711.99,267.65 713.68,269.76 C715.37,271.87 717.03,274.02 718.65,276.19 C720.28,278.35 721.87,280.55 723.43,282.77 C724.99,284.99 726.52,287.24 728.02,289.50 C729.51,291.76 730.98,294.05 732.42,296.36 C733.85,298.66 735.26,300.98 736.64,303.32 C738.02,305.65 739.37,308.01 740.69,310.37 C742.02,312.74 743.31,315.12 744.58,317.51 C745.86,319.91 747.10,322.31 748.33,324.73 C749.55,327.14 750.75,329.57 751.93,332.00 C753.11,334.44 754.27,336.88 755.41,339.33 C756.54,341.78 757.66,344.24 758.76,346.70 C759.86,349.16 760.94,351.63 762.01,354.10 C763.08,356.57 764.13,359.05 765.16,361.53 C766.20,364.00 767.22,366.49 768.23,368.96 C769.24,371.44 770.23,373.92 771.21,376.40 C772.20,378.88 773.17,381.36 774.14,383.83 C775.10,386.30 776.52,390.01 777.00,391.24" fill="none" stroke="#0a0a0a" stroke-width="3.1"/>
<path d="M37.52,71.76 C38.82,71.83 42.75,72.02 45.37,72.15 C47.99,72.28 50.62,72.42 53.26,72.56 C55.89,72.70 58.53,72.85 61.17,73.00 C63.81,73.15 66.46,73.31 69.11,73.47 C71.76,73.64 74.42,73.81 77.07,73.99 C79.73,74.16 82.39,74.35 85.05,74.54 C87.72,74.73 90.38,74.93 93.05,75.13 C95.72,75.34 98.39,75.55 101.06,75.77 C103.74,76.00 106.41,76.23 109.09,76.47 C111.76,76.71 114.44,76.95 117.12,77.21 C119.79,77.47 122.47,77.74 125.15,78.01 C127.83,78.29 130.51,78.58 133.19,78.88 C135.87,79.18 138.55,79.49 141.22,79.81 C143.90,80.13 146.58,80.46 149.26,80.80 C151.93,81.15 154.61,81.50 157.28,81.87 C159.96,82.24 162.63,82.62 165.30,83.01 C167.97,83.40 170.64,83.81 173.30,84.23 C175.97,84.65 178.63,85.08 181.29,85.53 C183.95,85.97 186.61,86.43 189.26,86.91 C191.91,87.39 194.56,87.88 197.21,88.38 C199.85,88.89 202.49,89.41 205.13,89.94 C207.77,90.48 210.40,91.03 213.03,91.60 C215.65,92.17 218.28,92.75 220.89,93.36 C223.51,93.96 226.12,94.58 228.73,95.21 C231.33,95.85 233.93,96.50 236.52,97.17 C239.12,97.85 241.70,98.54 244.28,99.24 C246.86,99.95 249.44,100.68 252.00,101.43 C254.57,102.17 257.12,102.94 259.67,103.72 C262.22,104.51 264.76,105.31 267.30,106.14 C269.83,106.96 272.36,107.81 274.87,108.67 C277.39,109.54 279.90,110.43 282.39,111.34 C284.89,112.24 287.38,113.17 289.86,114.13 C292.34,115.08 294.81,116.05 297.26,117.05 C299.72,118.05 302.17,119.06 304.61,120.11 C307.04,121.15 309.47,122.21 311.89,123.30 C314.30,124.39 316.71,125.51 319.10,126.64 C321.49,127.78 323.87,128.94 326.24,130.13 C328.60,131.31 330.96,132.53 333.30,133.76 C335.65,135.00 337.98,136.26 340.29,137.55 C342.61,138.84 344.91,140.15 347.20,141.49 C349.49,142.83 351.77,144.20 354.03,145.59 C356.29,146.99 358.54,148.41 360.77,149.86 C363.00,151.30 365.22,152.78 367.42,154.29 C369.63,155.79 371.82,157.32 373.99,158.88 C376.16,160.45 378.32,162.03 380.46,163.65 C382.60,165.27 384.72,166.91 386.83,168.58 C388.93,170.24 391.02,171.94 393.10,173.65 C395.17,175.37 397.22,177.12 399.26,178.88 C401.30,180.65 403.32,182.44 405.32,184.25 C407.32,186.06 409.31,187.90 411.27,189.75 C413.23,191.61 415.18,193.48 417.11,195.38 C419.03,197.28 420.94,199.20 422.82,201.13 C424.71,203.07 426.58,205.03 428.42,207.00 C430.27,208.98 432.10,210.97 433.90,212.98 C435.71,214.99 437.49,217.01 439.25,219.06 C441.01,221.10 442.75,223.16 444.47,225.23 C446.19,227.31 447.89,229.39 449.56,231.50 C451.23,233.60 452.89,235.72 454.51,237.85 C456.14,239.98 458.53,243.20 459.33,244.27" fill="none" stroke="#0a0a0a" stroke-width="3.1"/>
<path d="M168.00,83.32 C169.34,83.34 173.35,83.40 176.03,83.45 C178.71,83.49 181.38,83.54 184.06,83.60 C186.73,83.65 189.41,83.70 192.08,83.76 C194.76,83.82 197.43,83.89 200.11,83.95 C202.78,84.02 205.45,84.09 208.13,84.16 C210.80,84.23 213.47,84.30 216.14,84.38 C218.82,84.46 221.49,84.54 224.16,84.62 C226.83,84.70 229.51,84.79 232.18,84.87 C234.85,84.96 237.52,85.05 240.19,85.14 C242.86,85.23 245.53,85.32 248.20,85.42 C250.87,85.51 253.55,85.61 256.22,85.71 C258.89,85.81 261.56,85.91 264.23,86.01 C266.90,86.12 269.57,86.22 272.24,86.33 C274.91,86.43 277.57,86.54 280.24,86.65 C282.91,86.76 285.58,86.87 288.25,86.98 C290.92,87.09 293.59,87.20 296.26,87.32 C298.93,87.43 301.60,87.55 304.27,87.66 C306.94,87.78 309.61,87.89 312.28,88.01 C314.94,88.13 317.61,88.25 320.28,88.36 C322.95,88.48 325.62,88.60 328.29,88.72 C330.96,88.84 333.63,88.96 336.30,89.08 C338.97,89.20 341.64,89.32 344.31,89.44 C346.98,89.56 349.65,89.68 352.32,89.80 C354.99,89.92 357.66,90.04 360.33,90.17 C363.00,90.29 365.67,90.41 368.34,90.53 C371.01,90.65 373.68,90.76 376.35,90.88 C379.02,91.00 381.70,91.12 384.37,91.24 C387.04,91.36 389.71,91.47 392.38,91.59 C395.05,91.71 397.73,91.82 400.40,91.94 C403.07,92.05 405.75,92.16 408.42,92.27 C411.09,92.39 413.77,92.50 416.44,92.61 C419.11,92.72 421.79,92.83 424.46,92.93 C427.14,93.04 429.81,93.14 432.49,93.25 C435.16,93.35 437.84,93.45 440.52,93.55 C443.19,93.66 445.87,93.75 448.55,93.85 C451.23,93.95 453.90,94.04 456.58,94.14 C459.26,94.24 461.94,94.34 464.61,94.43 C467.29,94.53 469.97,94.63 472.65,94.74 C475.32,94.84 478.00,94.95 480.68,95.06 C483.35,95.17 486.03,95.28 488.70,95.40 C491.38,95.52 494.05,95.64 496.73,95.78 C499.40,95.91 502.07,96.04 504.74,96.19 C507.42,96.34 510.09,96.49 512.76,96.65 C515.42,96.81 518.09,96.98 520.76,97.17 C523.42,97.35 526.09,97.54 528.75,97.74 C531.41,97.95 534.08,98.16 536.73,98.39 C539.39,98.62 542.05,98.86 544.71,99.11 C547.36,99.37 550.01,99.63 552.67,99.92 C555.32,100.20 557.96,100.50 560.61,100.81 C563.26,101.13 565.90,101.46 568.54,101.81 C571.18,102.16 573.82,102.53 576.45,102.91 C579.09,103.30 581.72,103.70 584.35,104.13 C586.98,104.55 589.60,105.00 592.22,105.47 C594.85,105.93 597.46,106.42 600.08,106.93 C602.70,107.44 605.31,107.97 607.91,108.53 C610.52,109.09 613.13,109.67 615.73,110.27 C618.33,110.88 620.92,111.51 623.52,112.15 C626.11,112.80 628.70,113.46 631.29,114.14 C633.87,114.82 636.46,115.53 639.04,116.24 C641.62,116.95 644.20,117.68 646.77,118.42 C649.35,119.16 651.92,119.91 654.49,120.67 C657.06,121.43 659.63,122.20 662.19,122.98 C664.75,123.75 667.32,124.54 669.88,125.32 C672.44,126.11 675.00,126.90 677.55,127.69 C680.11,128.49 682.66,129.28 685.22,130.07 C687.77,130.87 690.32,131.66 692.87,132.45 C695.42,133.25 697.97,134.04 700.51,134.84 C703.06,135.64 705.60,136.44 708.14,137.25 C710.68,138.05 713.22,138.86 715.76,139.68 C718.29,140.49 720.83,141.31 723.36,142.14 C725.89,142.97 728.42,143.80 730.95,144.65 C733.47,145.49 736.00,146.34 738.52,147.20 C741.04,148.06 743.56,148.93 746.07,149.82 C748.59,150.70 751.10,151.59 753.61,152.50 C756.11,153.40 758.62,154.32 761.12,155.25 C763.63,156.18 766.13,157.13 768.62,158.09 C771.12,159.05 773.61,160.03 776.10,161.02 C778.59,162.01 781.07,163.02 783.55,164.05 C786.03,165.08 788.51,166.12 790.98,167.19 C793.45,168.25 795.91,169.33 798.37,170.44 C800.82,171.54 803.27,172.66 805.71,173.81 C808.15,174.95 810.57,176.12 812.99,177.31 C815.40,178.49 817.81,179.70 820.20,180.94 C822.59,182.17 824.97,183.43 827.33,184.71 C829.69,185.99 832.04,187.29 834.36,188.62 C836.69,189.95 839.00,191.31 841.30,192.69 C843.59,194.07 845.86,195.48 848.12,196.92 C850.37,198.35 852.60,199.82 854.81,201.31 C857.02,202.80 859.21,204.32 861.37,205.88 C863.53,207.43 865.67,209.01 867.79,210.62 C869.90,212.23 871.98,213.87 874.04,215.55 C876.10,217.22 878.13,218.93 880.14,220.66 C882.14,222.40 884.12,224.16 886.07,225.95 C888.03,227.75 889.95,229.57 891.86,231.42 C893.76,233.26 895.64,235.14 897.49,237.04 C899.34,238.94 901.17,240.87 902.98,242.82 C904.79,244.77 906.57,246.75 908.33,248.74 C910.09,250.74 911.83,252.76 913.54,254.80 C915.26,256.84 916.95,258.91 918.62,260.99 C920.30,263.07 921.95,265.17 923.58,267.29 C925.21,269.42 926.82,271.56 928.42,273.71 C930.01,275.87 931.58,278.04 933.13,280.23 C934.69,282.42 936.22,284.63 937.74,286.84 C939.26,289.06 940.76,291.30 942.24,293.54 C943.72,295.79 945.18,298.05 946.63,300.32 C948.08,302.59 949.51,304.87 950.93,307.16 C952.35,309.45 953.75,311.76 955.13,314.07 C956.52,316.38 957.89,318.69 959.25,321.02 C960.60,323.35 961.95,325.68 963.28,328.02 C964.60,330.36 965.92,332.70 967.22,335.05 C968.53,337.40 969.82,339.75 971.10,342.11 C972.38,344.46 973.64,346.82 974.90,349.18 C976.16,351.54 977.40,353.91 978.64,356.27 C979.87,358.63 981.10,360.99 982.31,363.35 C983.53,365.71 984.74,368.08 985.93,370.43 C987.13,372.79 988.91,376.32 989.50,377.49" fill="none" stroke="#0a0a0a" stroke-width="3.1"/>
<path d="M644.99,118.99 C646.30,119.36 650.25,120.43 652.85,121.22 C655.45,122.01 658.03,122.85 660.58,123.72 C663.14,124.60 665.67,125.52 668.18,126.48 C670.69,127.44 673.18,128.44 675.64,129.48 C678.11,130.52 680.55,131.61 682.97,132.73 C685.39,133.85 687.79,135.01 690.17,136.20 C692.55,137.40 694.90,138.63 697.23,139.90 C699.57,141.17 701.88,142.48 704.17,143.82 C706.46,145.16 708.73,146.54 710.97,147.95 C713.22,149.36 715.45,150.80 717.65,152.28 C719.85,153.75 722.04,155.26 724.20,156.79 C726.36,158.33 728.50,159.90 730.62,161.50 C732.74,163.10 734.83,164.72 736.91,166.38 C738.99,168.03 741.04,169.72 743.08,171.43 C745.11,173.14 747.13,174.88 749.12,176.64 C751.11,178.40 753.09,180.19 755.04,182.00 C756.99,183.81 758.92,185.65 760.84,187.51 C762.75,189.37 764.64,191.25 766.51,193.15 C768.38,195.06 770.23,196.98 772.06,198.93 C773.89,200.87 775.70,202.84 777.49,204.82 C779.28,206.81 781.05,208.81 782.80,210.83 C784.55,212.85 786.29,214.89 788.00,216.94 C789.71,219.00 791.40,221.07 793.07,223.16 C794.75,225.25 796.40,227.35 798.04,229.47 C799.67,231.59 801.29,233.73 802.88,235.88 C804.48,238.03 806.06,240.19 807.62,242.37 C809.18,244.55 810.73,246.74 812.25,248.94 C813.78,251.15 815.29,253.36 816.78,255.59 C818.27,257.82 819.74,260.07 821.19,262.32 C822.65,264.57 824.09,266.84 825.51,269.11 C826.93,271.39 828.33,273.67 829.72,275.97 C831.11,278.26 832.48,280.57 833.84,282.88 C835.19,285.20 836.53,287.52 837.85,289.85 C839.18,292.18 840.48,294.52 841.77,296.87 C843.06,299.22 844.34,301.58 845.60,303.94 C846.86,306.30 848.10,308.68 849.33,311.05 C850.56,313.43 851.77,315.82 852.97,318.21 C854.16,320.61 855.34,323.01 856.51,325.41 C857.68,327.82 858.83,330.23 859.96,332.65 C861.10,335.07 862.22,337.50 863.32,339.93 C864.43,342.36 865.52,344.80 866.59,347.24 C867.67,349.69 868.73,352.14 869.77,354.59 C870.82,357.04 871.85,359.50 872.86,361.97 C873.88,364.43 874.88,366.90 875.87,369.37 C876.85,371.85 877.82,374.32 878.78,376.80 C879.74,379.29 880.68,381.77 881.61,384.26 C882.54,386.75 883.45,389.24 884.35,391.74 C885.25,394.23 886.57,397.99 887.01,399.24" fill="none" stroke="#0a0a0a" stroke-width="3.1"/>
<path d="M37.52,239.49 C38.82,239.56 42.73,239.75 45.35,239.89 C47.97,240.02 50.59,240.15 53.22,240.29 C55.85,240.42 58.48,240.56 61.12,240.70 C63.75,240.83 66.40,240.97 69.04,241.12 C71.69,241.26 74.34,241.41 76.99,241.56 C79.65,241.71 82.31,241.86 84.97,242.02 C87.63,242.18 90.29,242.34 92.96,242.51 C95.63,242.68 98.30,242.85 100.97,243.03 C103.64,243.21 106.32,243.40 108.99,243.59 C111.67,243.78 114.35,243.98 117.03,244.19 C119.71,244.39 122.39,244.61 125.07,244.83 C127.75,245.05 130.43,245.28 133.12,245.52 C135.80,245.76 138.48,246.01 141.17,246.27 C143.85,246.53 146.53,246.79 149.21,247.07 C151.90,247.35 154.58,247.64 157.26,247.94 C159.94,248.24 162.62,248.55 165.30,248.88 C167.97,249.20 170.65,249.54 173.32,249.89 C176.00,250.23 178.67,250.60 181.34,250.97 C184.01,251.35 186.68,251.73 189.34,252.14 C192.00,252.54 194.66,252.96 197.32,253.39 C199.98,253.82 202.63,254.27 205.28,254.73 C207.93,255.20 211.90,255.93 213.22,256.17" fill="none" stroke="#0a0a0a" stroke-width="3.1" stroke-dasharray="9.6 5.6" stroke-dashoffset="1"/>
<path d="M37.50,171.90 C38.87,171.93 42.97,172.02 45.70,172.08 C48.43,172.14 51.16,172.19 53.89,172.24 C56.62,172.29 59.34,172.33 62.07,172.38 C64.79,172.42 67.51,172.46 70.24,172.49 C72.96,172.53 75.67,172.56 78.39,172.59 C81.11,172.62 83.82,172.64 86.54,172.67 C89.25,172.69 91.96,172.71 94.67,172.73 C97.38,172.74 100.09,172.76 102.80,172.77 C105.50,172.79 108.21,172.80 110.91,172.80 C113.62,172.81 116.32,172.82 119.02,172.82 C121.72,172.83 124.42,172.83 127.12,172.83 C129.82,172.83 132.52,172.82 135.21,172.82 C137.91,172.82 140.60,172.81 143.29,172.81 C145.99,172.80 148.68,172.79 151.37,172.78 C154.06,172.77 156.75,172.76 159.44,172.75 C162.13,172.74 164.81,172.73 167.50,172.71 C170.19,172.70 172.87,172.69 175.55,172.67 C178.24,172.66 180.92,172.64 183.60,172.62 C186.29,172.61 188.97,172.59 191.65,172.57 C194.33,172.56 197.01,172.54 199.69,172.52 C202.37,172.51 205.04,172.49 207.72,172.47 C210.40,172.45 213.07,172.44 215.75,172.42 C218.43,172.40 221.10,172.39 223.78,172.37 C226.45,172.36 229.13,172.34 231.80,172.33 C234.47,172.31 237.15,172.30 239.82,172.29 C242.49,172.27 245.16,172.26 247.83,172.25 C250.51,172.24 253.18,172.23 255.85,172.22 C258.52,172.21 261.19,172.21 263.86,172.20 C266.53,172.19 269.20,172.19 271.87,172.19 C274.54,172.19 277.21,172.19 279.88,172.19 C282.55,172.19 285.22,172.19 287.89,172.20 C290.56,172.20 293.22,172.21 295.89,172.22 C298.56,172.23 301.23,172.24 303.90,172.25 C306.57,172.27 309.24,172.29 311.91,172.31 C314.58,172.33 317.25,172.35 319.92,172.37 C322.59,172.40 325.26,172.43 327.93,172.46 C330.60,172.49 333.27,172.52 335.94,172.56 C338.61,172.60 341.28,172.64 343.95,172.68 C346.62,172.73 349.29,172.77 351.96,172.83 C354.63,172.88 357.31,172.93 359.98,172.99 C362.65,173.05 365.33,173.11 368.00,173.18 C370.67,173.25 373.35,173.32 376.02,173.39 C378.70,173.47 381.37,173.55 384.05,173.63 C386.73,173.72 389.40,173.80 392.08,173.90 C394.76,173.99 398.78,174.14 400.12,174.19" fill="none" stroke="#0a0a0a" stroke-width="3.1" stroke-dasharray="9.6 5.6" stroke-dashoffset="1"/>
<path d="M37.50,83.10 C59.58,83.13 147.92,83.27 170.00,83.30" fill="none" stroke="#0a0a0a" stroke-width="3.1" stroke-dasharray="9.6 5.6" stroke-dashoffset="1"/>
<path d="M37.50,91.00 C38.83,91.02 42.83,91.06 45.49,91.09 C48.15,91.11 50.82,91.13 53.48,91.16 C56.14,91.18 58.81,91.19 61.47,91.21 C64.14,91.23 66.81,91.24 69.47,91.25 C72.14,91.26 74.80,91.27 77.47,91.28 C80.14,91.29 82.81,91.29 85.47,91.29 C88.14,91.30 90.81,91.30 93.48,91.30 C96.15,91.30 98.82,91.30 101.49,91.30 C104.16,91.29 106.83,91.29 109.50,91.28 C112.17,91.28 114.84,91.27 117.51,91.26 C120.18,91.25 122.85,91.24 125.52,91.23 C128.19,91.22 130.86,91.21 133.54,91.20 C136.21,91.19 138.88,91.17 141.55,91.16 C144.23,91.15 146.90,91.13 149.57,91.12 C152.24,91.10 154.92,91.09 157.59,91.07 C160.27,91.06 162.94,91.04 165.61,91.02 C168.29,91.01 170.96,90.99 173.64,90.98 C176.31,90.96 178.99,90.94 181.66,90.93 C184.34,90.91 187.01,90.89 189.69,90.88 C192.36,90.86 195.04,90.85 197.71,90.83 C200.39,90.82 203.06,90.80 205.74,90.79 C208.41,90.77 211.09,90.76 213.77,90.75 C216.44,90.73 219.12,90.72 221.79,90.71 C224.47,90.70 227.15,90.69 229.82,90.68 C232.50,90.67 235.17,90.66 237.85,90.66 C240.53,90.65 243.20,90.64 245.88,90.64 C248.56,90.64 251.23,90.63 253.91,90.63 C256.58,90.63 259.26,90.63 261.94,90.63 C264.61,90.64 267.29,90.64 269.97,90.65 C272.64,90.65 275.32,90.66 277.99,90.67 C280.67,90.68 283.35,90.69 286.02,90.70 C288.70,90.72 291.37,90.74 294.05,90.75 C296.73,90.77 299.40,90.79 302.08,90.82 C304.75,90.84 307.43,90.87 310.10,90.89 C312.78,90.92 315.45,90.95 318.13,90.99 C320.80,91.02 323.48,91.06 326.15,91.10 C328.83,91.14 331.50,91.18 334.18,91.23 C336.85,91.28 339.52,91.32 342.20,91.38 C344.87,91.43 347.55,91.49 350.22,91.55 C352.89,91.61 355.57,91.67 358.24,91.73 C360.91,91.80 363.58,91.87 366.26,91.95 C368.93,92.02 371.60,92.10 374.27,92.18 C376.95,92.26 379.62,92.35 382.29,92.44 C384.96,92.53 387.63,92.62 390.30,92.72 C392.97,92.82 395.64,92.92 398.31,93.03 C400.98,93.13 403.65,93.25 406.32,93.36 C408.99,93.48 411.66,93.60 414.33,93.72 C416.99,93.85 419.66,93.98 422.33,94.11 C425.00,94.25 427.66,94.39 430.33,94.53 C433.00,94.68 435.66,94.83 438.33,94.99 C440.99,95.14 443.66,95.30 446.33,95.47 C448.99,95.63 451.65,95.81 454.32,95.98 C456.98,96.16 459.65,96.34 462.31,96.53 C464.97,96.72 467.63,96.91 470.30,97.11 C472.96,97.31 475.62,97.52 478.28,97.73 C480.94,97.94 483.60,98.16 486.26,98.38 C488.92,98.61 491.58,98.84 494.24,99.07 C496.90,99.31 499.55,99.55 502.21,99.80 C504.87,100.05 507.52,100.31 510.18,100.57 C512.84,100.83 515.49,101.10 518.15,101.38 C520.80,101.66 523.46,101.94 526.11,102.23 C528.76,102.52 531.42,102.82 534.07,103.12 C536.72,103.42 539.37,103.74 542.02,104.05 C544.67,104.37 547.32,104.70 549.97,105.03 C552.62,105.37 555.27,105.71 557.92,106.06 C560.57,106.40 563.21,106.76 565.86,107.12 C568.50,107.49 571.15,107.86 573.79,108.24 C576.44,108.62 579.08,109.01 581.73,109.40 C584.37,109.80 587.01,110.20 589.65,110.62 C592.30,111.03 594.94,111.45 597.58,111.88 C600.22,112.31 602.85,112.74 605.49,113.19 C608.13,113.64 610.77,114.09 613.40,114.55 C616.04,115.02 618.68,115.49 621.31,115.97 C623.95,116.45 626.58,116.94 629.21,117.44 C631.84,117.94 634.48,118.45 637.11,118.96 C639.74,119.48 643.68,120.28 645.00,120.54" fill="none" stroke="#0a0a0a" stroke-width="3.1" stroke-dasharray="9.6 5.6" stroke-dashoffset="1"/>
<path d="M459.33,244.27 C460.11,245.36 462.47,248.59 464.01,250.77 C465.55,252.95 467.07,255.14 468.56,257.34 C470.06,259.55 471.53,261.76 472.99,263.99 C474.45,266.21 475.88,268.45 477.30,270.69 C478.72,272.94 480.11,275.20 481.49,277.47 C482.87,279.73 484.23,282.01 485.58,284.30 C486.92,286.59 488.25,288.89 489.56,291.19 C490.87,293.50 492.16,295.82 493.44,298.14 C494.72,300.47 495.98,302.80 497.23,305.15 C498.48,307.49 499.71,309.84 500.93,312.20 C502.15,314.56 503.35,316.93 504.55,319.31 C505.74,321.68 506.92,324.07 508.08,326.46 C509.25,328.85 510.40,331.25 511.55,333.66 C512.69,336.06 513.82,338.47 514.94,340.89 C516.06,343.31 517.17,345.74 518.27,348.17 C519.38,350.60 520.47,353.04 521.55,355.48 C522.63,357.93 523.70,360.37 524.77,362.83 C525.83,365.28 526.89,367.74 527.94,370.21 C528.99,372.67 530.03,375.14 531.07,377.62 C532.11,380.09 533.14,382.57 534.16,385.05 C535.19,387.53 536.21,390.02 537.22,392.51 C538.24,395.00 539.25,397.49 540.25,399.99 C541.26,402.49 542.26,404.99 543.26,407.49 C544.26,409.99 545.75,413.75 546.25,415.00" fill="none" stroke="#0a0a0a" stroke-width="3.1" stroke-dasharray="9.6 5.6" stroke-dashoffset="-3"/>
<path d="M37.20,36.90 H1022.00 V466.40 H37.20 Z" fill="none" stroke="#1a1a1a" stroke-width="1.7"/>
<path d="M807.30,36.90 V80.03 H1022.00" fill="none" stroke="#1a1a1a" stroke-width="1.7"/>
<text x="0" y="5.4" text-anchor="middle" font-size="15.5" stroke="#222" stroke-width="0.25" textLength="38.5" lengthAdjust="spacingAndGlyphs" transform="translate(282.0,125.2) rotate(19.4)">25/10</text>
<text x="0" y="5.4" text-anchor="middle" font-size="15.5" stroke="#222" stroke-width="0.25" textLength="38.5" lengthAdjust="spacingAndGlyphs" transform="translate(275.6,140.0) rotate(19.2)">30/10</text>
<text x="0" y="5.4" text-anchor="middle" font-size="15.5" stroke="#222" stroke-width="0.25" textLength="28.6" lengthAdjust="spacingAndGlyphs" transform="translate(259.2,398.2) rotate(28.0)">20/4</text>
<text x="0" y="5.4" text-anchor="middle" font-size="15.5" stroke="#222" stroke-width="0.25" textLength="28.6" lengthAdjust="spacingAndGlyphs" transform="translate(375.6,380.8) rotate(44.0)">25/6</text>
<text x="0" y="5.4" text-anchor="middle" font-size="15.5" stroke="#222" stroke-width="0.25" textLength="28.6" lengthAdjust="spacingAndGlyphs" transform="translate(444.6,410.8) rotate(49.0)">30/7</text>
<text x="0" y="5.4" text-anchor="middle" font-size="15.5" stroke="#222" stroke-width="0.25" textLength="28.6" lengthAdjust="spacingAndGlyphs" transform="translate(596.0,331.3) rotate(50.0)">40/7</text>
<text x="0" y="5.4" text-anchor="middle" font-size="15.5" stroke="#222" stroke-width="0.25" textLength="28.6" lengthAdjust="spacingAndGlyphs" transform="translate(679.6,252.8) rotate(40.0)">50/7</text>
<text x="0" y="5.4" text-anchor="middle" font-size="15.5" stroke="#222" stroke-width="0.25" textLength="38.5" lengthAdjust="spacingAndGlyphs" transform="translate(767.2,211.8) rotate(49.3)">65/10</text>
<text x="0" y="5.4" text-anchor="middle" font-size="15.5" stroke="#222" stroke-width="0.25" textLength="38.5" lengthAdjust="spacingAndGlyphs" transform="translate(853.4,218.2) rotate(36.5)">80/10</text>
<text x="28.4" y="471.6" text-anchor="end" font-size="14.5">0</text>
<text x="28.4" y="428.7" text-anchor="end" font-size="14.5">1</text>
<text x="28.4" y="385.7" text-anchor="end" font-size="14.5">2</text>
<text x="28.4" y="342.8" text-anchor="end" font-size="14.5">3</text>
<text x="28.4" y="299.9" text-anchor="end" font-size="14.5">4</text>
<text x="28.4" y="256.9" text-anchor="end" font-size="14.5">5</text>
<text x="28.4" y="214.0" text-anchor="end" font-size="14.5">6</text>
<text x="28.4" y="171.1" text-anchor="end" font-size="14.5">7</text>
<text x="28.4" y="128.2" text-anchor="end" font-size="14.5">8</text>
<text x="28.4" y="85.2" text-anchor="end" font-size="14.5">9</text>
<text x="37.7" y="485.1" text-anchor="middle" font-size="14.5">1</text>
<text x="193.2" y="485.1" text-anchor="middle" font-size="14.5">2</text>
<text x="286.4" y="485.1" text-anchor="middle" font-size="14.5">3</text>
<text x="351.6" y="485.1" text-anchor="middle" font-size="14.5">4</text>
<text x="402.1" y="485.1" text-anchor="middle" font-size="14.5">5</text>
<text x="443.4" y="485.1" text-anchor="middle" font-size="14.5">6</text>
<text x="508.5" y="485.1" text-anchor="middle" font-size="14.5">8</text>
<text x="559.1" y="485.1" text-anchor="middle" font-size="14.5">10</text>
<text x="716.0" y="485.1" text-anchor="middle" font-size="14.5">20</text>
<text x="807.8" y="485.1" text-anchor="middle" font-size="14.5">30</text>
<text x="872.9" y="485.1" text-anchor="middle" font-size="14.5">40</text>
<text x="923.5" y="485.1" text-anchor="middle" font-size="14.5">50</text>
<text x="-1.6" y="50.4" font-size="14.8" font-weight="bold" textLength="33.2" lengthAdjust="spacingAndGlyphs">H[m]</text>
<text x="969.5" y="485" font-size="14" font-weight="bold" textLength="52.5" lengthAdjust="spacingAndGlyphs">Q[m³/h]</text>
<text y="64.1" font-size="21.8" font-weight="bold" stroke="#111" stroke-width="0.35" fill="#111"><tspan x="818.7" textLength="43.6" lengthAdjust="spacingAndGlyphs">Wilo</tspan><tspan x="863.6" textLength="9.6" lengthAdjust="spacingAndGlyphs">–</tspan><tspan x="874.6" textLength="38.6" lengthAdjust="spacingAndGlyphs">TOP</tspan><tspan x="915.2" textLength="9.6" lengthAdjust="spacingAndGlyphs">–</tspan><tspan x="927.6" textLength="12.8" lengthAdjust="spacingAndGlyphs">Z</tspan></text>
</svg></body></html>
